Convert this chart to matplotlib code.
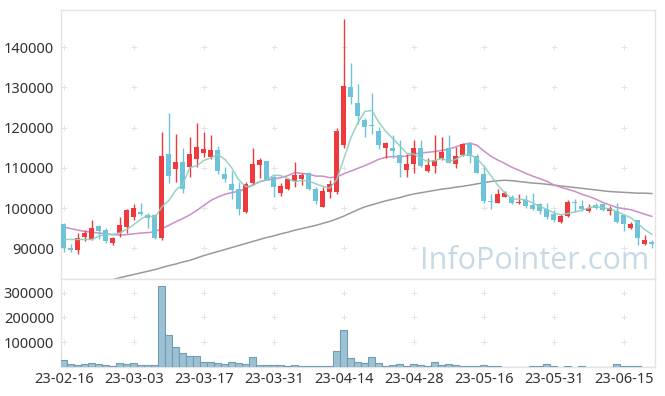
import matplotlib
matplotlib.use("Agg")
import matplotlib.pyplot as plt
import numpy as np
import pandas as pd

plt.rcParams['font.family'] = ['Noto Sans', 'DejaVu Sans']

# Подписи оси X (каждая 10-я торговая сессия)
tick_labels = ["23-02-16", "23-03-03", "23-03-17", "23-03-31", "23-04-14",
               "23-04-28", "23-05-16", "23-05-31", "23-06-15"]

# Цены: открытие, максимум, минимум, закрытие
opens = [96000, 90000, 89700, 92700, 92200, 95500, 94500, 91200, 93700, 95200,
         97700, 99000, 98200, 98200, 92500, 113400, 109700, 111400, 110200, 112200,
         113600, 112600, 114400, 108400, 105900, 104700, 99000, 106200, 110700, 111600,
         107700, 103700, 104700, 106700, 107200, 108700, 104700, 100200, 103900, 103900,
         115600, 130000, 126100, 121900, 120600, 119100, 114900, 114900, 113100, 109500,
         110900, 114900, 109200, 110400, 112100, 114900, 110900, 113100, 116100, 112900,
         108400, 101700, 101200, 102700, 102700, 101200, 102000, 100700, 100900, 99700,
         98500, 96500, 98000, 101400, 100400, 99200, 100700, 100900, 99200, 99200,
         98200, 95000, 97000, 91000, 91500]
highs = [96200, 91000, 93700, 94500, 97000, 95800, 95000, 92700, 97700, 99700,
         101000, 101200, 98700, 98400, 118900, 123600, 118400, 114900, 117600, 121100,
         118900, 118100, 115400, 110200, 109200, 106400, 106400, 114900, 112400, 111700,
         108200, 106200, 107400, 111400, 108700, 108900, 105200, 105200, 106900, 119900,
         147000, 136000, 130800, 122300, 128600, 120100, 116400, 118100, 116900, 113400,
         116900, 117000, 112400, 118100, 117600, 118100, 115100, 116200, 116400, 113400,
         110700, 103400, 104700, 104200, 103200, 103400, 103200, 103700, 101200, 101200,
         99400, 98500, 101900, 102200, 101900, 100900, 101200, 101200, 100400, 101200,
         98500, 96500, 97000, 93200, 92000]
lows = [89000, 89000, 88700, 91700, 92000, 92200, 91200, 90700, 92700, 93700,
        97000, 98200, 95000, 92200, 92000, 106200, 106400, 103700, 107700, 110200,
        112600, 112100, 108400, 106400, 102200, 98200, 98700, 105700, 107400, 106900,
        102700, 102900, 104400, 105200, 105700, 104600, 100900, 100200, 102400, 103400,
        114900, 125800, 120900, 117600, 118400, 114600, 112400, 112400, 107800, 107700,
        108800, 110200, 108900, 108700, 111900, 111100, 109900, 112900, 111100, 108700,
        101200, 99700, 101200, 102700, 101000, 100900, 99900, 99400, 98600, 97200,
        96500, 96200, 97700, 99000, 99200, 99000, 99700, 99200, 98200, 96200,
        94200, 94700, 90700, 90700, 90200]
closes = [90000, 89700, 92500, 93700, 95000, 94200, 91700, 92500, 95700, 99500,
          100000, 98500, 97500, 92500, 112900, 107900, 111400, 104700, 113400, 115100,
          114600, 114400, 109200, 107200, 104400, 99700, 105900, 110900, 111900, 106900,
          105200, 105400, 107200, 108200, 108200, 104700, 101700, 104200, 105900, 119100,
          130300, 127600, 122900, 120100, 120400, 115600, 116100, 114100, 111100, 110900,
          114900, 110400, 110700, 111900, 113900, 111100, 112900, 115900, 112900, 108700,
          101700, 101400, 103400, 103700, 101200, 101400, 100400, 99700, 99200, 97700,
          97000, 98000, 101400, 101200, 99700, 99900, 99900, 99500, 99900, 96500,
          96000, 96000, 92500, 92000, 91000]

# Объём торгов
volumes = [27000, 9500, 5400, 9500, 13500, 9500, 5400, 2000, 13500, 9500,
           13500, 5400, 5400, 5400, 327000, 127000, 78000, 54000, 43000, 43000,
           19000, 19000, 13500, 9500, 19000, 13500, 9500, 38000, 5400, 5400,
           5400, 5400, 1400, 5400, 1400, 1400, 1400, 1400, 1400, 63500,
           148700, 33800, 19000, 13500, 38000, 13500, 1400, 5400, 9500, 1400,
           9500, 5400, 1400, 19000, 5400, 9500, 5400, 1400, 1400, 1400,
           5400, 1400, 1400, 0, 0, 0, 0, 1400, 1400, 9500,
           1400, 0, 1400, 0, 1400, 0, 0, 0, 0, 9500,
           1400, 1400, 1400, 0, 0]

# Начало скользящих средних (история до окна)
ma5_head = [92200, 92200, 92200, 92200]
ma20_head = [95300, 94900, 94500, 94200, 94000, 93800, 93600, 93400, 93300, 93400,
             93600, 93800, 93900, 94100, 94900, 95700, 96600, 97400, 98300]
# Длинная скользящая средняя
ma60 = [np.nan] * 7 + [
    82200, 82700, 83100, 83500, 83900, 84300, 84700, 85200, 85700, 86100,
    86600, 87000, 87600, 88200, 88700, 89200, 89700, 90200, 90700, 91200,
    91700, 92200, 92700, 93100, 93600, 94000, 94500, 94900, 95300, 95700,
    96200, 96700, 97300, 98000, 98800, 99600, 100300, 100800, 101300, 101800,
    102200, 102600, 103100, 103500, 103800, 104100, 104400, 104700, 104900, 105200,
    105400, 105700, 106000, 106300, 106600, 106800, 106900, 106800, 106600, 106400,
    106200, 106100, 105900, 105700, 105500, 105300, 105100, 104900, 104700, 104500,
    104300, 104100, 104000, 103900, 103800, 103700, 103700, 103600]

RED = '#ee3a3d'
BLUE = '#6cc3da'

o = np.array(opens, dtype=float)
h = np.array(highs, dtype=float)
l = np.array(lows, dtype=float)
c = np.array(closes, dtype=float)
x = np.arange(len(c))

close_s = pd.Series(c)
ma5 = close_s.rolling(5).mean().to_numpy()
ma5[:len(ma5_head)] = ma5_head
ma20 = close_s.rolling(20).mean().to_numpy()
ma20[:len(ma20_head)] = ma20_head

fig = plt.figure(figsize=(6.65, 3.96), dpi=100)
ax = fig.add_axes([61 / 665, 1 - 278.5 / 396, 594 / 665, 268.5 / 396])
axv = fig.add_axes([61 / 665, 1 - 366.7 / 396, 594 / 665, 88.2 / 396], sharex=ax)

up = c >= o
colors = np.where(up, RED, BLUE)

# Свечи
ax.vlines(x, l, h, colors=colors, linewidth=1, zorder=3)
body_low = np.minimum(o, c)
body_h = np.maximum(np.abs(c - o), 250)
ax.bar(x, body_h, bottom=body_low, width=0.72, color=colors, linewidth=0, zorder=4)

# Скользящие средние
ax.plot(x, ma60, color='#9a9a9a', linewidth=1.1, zorder=2)
ax.plot(x, ma20, color='#cc8ec6', linewidth=1.1, zorder=2)
ax.plot(x, ma5, color='#8ccfbf', linewidth=1.1, alpha=0.9, zorder=5)

xticks = np.arange(0, len(c), 10)
yticks = [90000, 100000, 110000, 120000, 130000, 140000]
ax.set_xlim(-0.4, len(c) - 0.55)
ax.set_ylim(82500, 149200)
ax.set_yticks(yticks)
ax.set_yticklabels([str(v) for v in yticks])
gx, gy = np.meshgrid(xticks, yticks)
ax.scatter(gx.ravel(), gy.ravel(), marker='+', s=14, color='#e4e4e4', linewidths=0.7, zorder=1)

ax.text(0.99, 0.035, 'InfoPointer.com', transform=ax.transAxes, ha='right', va='baseline',
        fontsize=22, color='#c6dae5', family=['Open Sans', 'DejaVu Sans'], zorder=6)

# Объём
axv.bar(x, volumes, width=1.0, color='#9cc1d2', edgecolor='#6f9db5', linewidth=0.8, zorder=3)
vticks = [100000, 200000, 300000]
axv.set_ylim(0, 358000)
axv.set_yticks(vticks)
axv.set_yticklabels([str(v) for v in vticks])
axv.set_xticks(xticks)
axv.set_xticklabels(tick_labels)
gx, gy = np.meshgrid(xticks, vticks)
axv.scatter(gx.ravel(), gy.ravel(), marker='+', s=14, color='#e4e4e4', linewidths=0.7, zorder=1)

for a in (ax, axv):
    for s in a.spines.values():
        s.set_color('#e3e3e3')
        s.set_linewidth(1)
    a.tick_params(length=0, labelsize=10.5, colors='#333333', pad=5)
ax.tick_params(labelbottom=False)
axv.tick_params(axis='x', pad=4)

fig.savefig('out.png', dpi=100)
